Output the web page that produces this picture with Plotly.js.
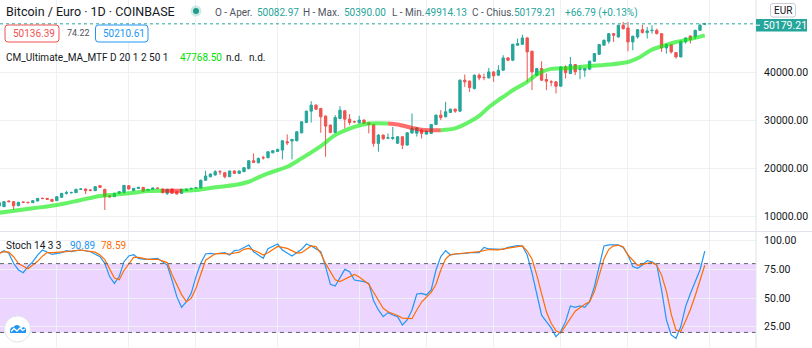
<!DOCTYPE html>
<html><head><meta charset="utf-8">
<script src="https://cdn.plot.ly/plotly-3.0.1.min.js"></script>
<style>html,body{margin:0;padding:0;background:#fff;overflow:hidden}#chart{width:812px;height:348px}</style>
</head><body><div id="chart"></div>
<script>
// ---- data (daily candles, first day 2020-11-04) ----
const firstDay = [2020, 10, 4];
const openP = [12230,12090,13270,13130,12300,13060,12990,12920,13270,13850,13820,13620,13340,14030,14860,15000,15000,15700,15770,15560,15420,16460,15700,14380,14170,14860,15000,16460,15420,15900,16110,15420,15700,15970,15770,14860,15770,15210,14860,15420,15770,15970,15970,17600,18330,18680,19400,19170,18330,19520,19030,19380,20000,21660,21250,22300,22290,23320,23600,23880,25610,25750,25820,27480,29630,31990,33240,32540,30950,29080,27550,30460,32060,30320,29800,29560,30120,29560,29220,25270,27000,26350,26300,25300,26650,24920,27450,27400,28040,27210,27350,29220,31160,30820,31720,32410,31990,38440,38230,36710,39480,39000,38920,40170,39480,40520,43080,42600,45720,45920,47240,44470,39480,40870,38580,38090,38090,37190,41210,39830,41700,40650,40520,40730,42390,43840,45720,46550,48140,47450,49880,49320,46410,47450,48970,48350,48750,48830,48140,45160,45860,44190,43290,46410,47660,47450,48830,50082.97];
const highP = [13000,13200,13400,13200,13100,13150,13100,13400,13900,13950,13900,13700,14250,14950,15400,15200,15800,15900,15850,15700,16400,16600,15800,14500,15000,15300,16600,16600,16000,16200,16200,15800,16050,16050,15850,15800,15850,15300,15800,15850,16000,16150,17700,19580,19000,19700,19720,19300,19600,19650,19600,20300,21750,23190,22300,22700,23600,23900,24150,25900,27140,26200,27800,29850,32100,34070,33400,32700,31100,29200,31160,33030,32200,31370,30000,31020,30300,29700,29300,27200,27100,27350,28700,26800,26800,27600,31510,28700,28200,28000,29300,31300,32200,33930,32500,32500,38600,39620,38400,39620,39830,39830,41000,40300,41560,43640,43290,46000,47100,47930,47400,44600,41000,42390,39830,38440,38200,41300,41560,43290,41800,41560,41000,42500,44100,46000,46900,48250,48250,50000,50570,50570,47700,49050,50010,49530,49880,49180,48250,46060,46000,44300,46650,47350,47750,48950,50220,50390.00];
const lowP = [12100,12000,13000,11400,12200,12900,12850,12850,13200,13650,13500,13100,13300,13950,14600,14800,14950,15600,14720,15300,15350,16000,11400,14000,14100,14800,14900,15700,15350,15850,15200,15350,15650,15800,14900,14520,14800,14650,14800,15350,15700,15900,15900,17500,18200,18600,18700,17990,18250,18950,18900,19300,19900,21200,21100,21900,22200,23200,23500,21940,24920,21940,25700,27350,29500,29630,32200,27480,22490,27400,27400,30300,28380,29080,29500,29400,29300,27350,24570,23530,26000,26170,26000,25200,24090,24800,27300,26700,26300,27100,27200,29100,30120,30700,31600,31650,31800,37050,36010,36500,38440,38440,38800,38090,39300,40400,42400,42400,45600,45800,38090,36360,39300,38300,36360,37190,35670,37050,38790,39700,39480,38650,39130,40600,42300,43700,45720,46060,46410,47300,49000,44470,44680,47100,48200,47100,48140,48000,44330,43980,43980,42950,43200,46060,46060,46960,48700,49914.13];
const closeP = [12920,13130,13130,12300,12990,12990,12920,13340,13820,13780,13620,13200,14170,14860,15000,15050,15700,15770,15420,15500,16250,16110,14170,14100,14860,15210,16530,15770,15900,16110,15280,15700,15970,15900,15000,15700,14860,14720,15700,15770,15900,16040,17600,18470,18890,19380,19350,18330,19520,19030,19520,20210,21660,21320,22150,22250,23530,23740,24020,25820,25400,26100,27690,29770,31990,33240,32400,30810,28870,27550,30670,32200,30320,29630,29770,30120,29420,29220,25270,27000,26250,26450,26500,26650,24920,27480,28400,28500,27350,27840,29220,31160,30680,31860,32410,31990,38440,38090,36910,39480,38920,38990,40170,39340,40520,43080,42600,45920,46060,47240,44330,40170,40870,38440,38230,38050,37190,41210,40000,41700,40170,40730,40870,42390,43980,45860,46760,48140,47800,49880,49180,46410,47590,48970,48350,48700,48830,48140,45160,45860,44330,43290,46550,47240,46900,48830,49880,50179.21];

// CM_Ultimate_MA_MTF (SMA 20): day index / value
const maIdx = [0,7,12,17,21,24,28,31,34,36,38,41,45,49,52,54,56,60,63,67,70,74,77,81,83,86,88,90,92,95,98,100,102,104,105,107,109,110,112,113,115,119,121,127,131,133,136,138,141,144,147];
const maVal = [10830,11750,12430,13470,14300,14600,14990,15350,15420,15420,15410,15550,16120,16590,17280,18200,19030,20400,22150,24700,26990,28720,29430,29430,29220,28500,28100,28030,28030,28390,29760,31000,32800,34300,34960,36350,37500,38100,39600,40160,40800,40990,41200,41700,42240,43000,44800,45500,46400,47000,47768.50];
const maRedFrom = [34, 81];
const maRedTo = [38, 92];

// Stochastic 14 3 3
const kIdx = [0,1,2,3,4,5,6,7,8,9,11,13,14,15,16,17,19,20,21,22,23,24,25,26,27,28,29,30,31,33,34,35,36,37,38,39,40,41,42,43,44,45,47,48,49,50,52,53,54,55,56,58,59,61,63,64,65,67,68,69,70,71,72,73,74,76,77,78,79,80,81,82,83,84,85,86,87,88,89,90,91,92,93,94,95,97,98,100,101,102,104,105,106,108,109,110,111,112,113,114,115,116,117,118,119,120,121,122,123,124,125,126,127,129,130,131,132,133,134,135,136,137,138,139,140,141,142,143,144,145,146,147];
const kVal = [89.0,91.3,89.0,80.3,74.5,72.1,77.4,81.7,87.5,91.9,88.0,89.6,91.3,90.4,91.3,91.9,90.4,88.4,86.1,80.3,68.7,62.8,68.7,81.7,86.7,87.8,84.6,84.0,83.8,84.6,81.7,78.8,65.7,51.2,41.9,46.8,54.1,68.7,80.3,88.4,89.0,88.4,89.6,87.5,91.3,91.9,96.3,90.4,87.5,84.6,93.0,97.1,91.9,86.7,92.5,97.1,95.4,90.4,77.4,61.9,60.5,67.2,75.0,73.0,65.7,64.3,62.8,47.7,39.6,33.8,37.3,35.2,33.8,26.5,30.9,39.6,53.5,54.1,52.7,57.0,74.5,86.1,91.3,87.5,88.4,89.0,89.6,89.6,94.2,92.8,92.5,92.5,94.2,95.7,95.4,87.5,72.0,52.0,35.0,29.5,24.0,16.3,21.0,29.4,43.1,41.9,43.1,41.9,46.8,59.9,78.0,95.4,96.3,96.3,94.2,87.5,77.4,75.9,78.8,82.6,81.7,78.8,57.0,30.9,17.8,14.9,25.1,42.5,54.0,64.0,74.5,90.89];
const dIdx = [0,1,2,3,4,6,7,8,9,10,11,14,17,20,21,22,24,25,26,27,28,29,31,33,35,36,37,38,39,40,41,42,43,45,46,48,50,51,52,54,55,56,58,60,62,63,65,66,67,68,69,70,71,72,74,75,77,78,79,80,81,83,84,86,87,88,90,91,92,93,94,96,98,100,102,104,106,108,109,110,111,112,113,114,115,116,117,118,119,120,122,123,124,125,126,127,128,129,130,131,132,133,135,136,137,138,139,140,141,142,143,144,145,146,147];
const dVal = [89,90.5,90,86,80,75.5,78.8,82,86.5,89.6,89.6,90.4,91.9,90,87.5,83.5,67.5,66,74,80.3,85.5,85.5,83.8,83.8,80.9,70.5,62,53,46.8,49.7,58.5,71,83,88.6,89,88.4,90,92.5,93.3,90,87.5,89.5,95,93.3,89.2,89.6,95.4,94.8,89,80,73,66,64.3,66.5,70.5,68.3,62,55,48,41,38,34.8,32.5,32,39.6,46.5,55,62,74.5,84,88,89,89.6,90.4,92.3,92,93.5,94.8,95.4,91,84,70,53,38,28,21.5,19.5,25.5,31.5,38.5,44.5,46.8,55.6,69,84,92.5,95.5,96,94.8,87.5,83,78.5,80.3,81,78.5,70,56,36,22,21,30,40,52,65,78.59];

const priceTicks = [10000, 20000, 30000, 40000];
const stochTicks = [25, 50, 75, 100];
const stochBand = [20, 80];
const gridDates = ['2020-11-16','2020-12-01','2020-12-15','2021-01-01','2021-01-18','2021-02-01','2021-02-15','2021-03-01','2021-03-15','2021-04-01'];
const lastPrice = 50179.21;

// ---- helpers ----
const W = 756, H = 348;
const DAY = 86400000;
const t0 = Date.UTC(firstDay[0], firstDay[1], firstDay[2]);
function dstr(i){ return new Date(t0 + i*DAY).toISOString().slice(0,19).replace('T',' '); }
const px = x => x / W;
const py = y => 1 - y / H;
const FONT = 'Roboto, "Liberation Sans", sans-serif';

const xs = closeP.map((_, i) => dstr(i));

const traces = [];
traces.push({
  type: 'candlestick', x: xs, open: openP, high: highP, low: lowP, close: closeP,
  xaxis: 'x', yaxis: 'y', hoverinfo: 'skip', whiskerwidth: 0,
  increasing: {line: {color: '#26a69a', width: 1}, fillcolor: '#26a69a'},
  decreasing: {line: {color: '#ef5350', width: 1}, fillcolor: '#ef5350'}
});

// MA split into coloured segments
const bounds = [0];
maRedFrom.forEach((a, j) => { bounds.push(a); bounds.push(maRedTo[j]); });
bounds.push(maIdx[maIdx.length - 1]);
for (let s = 0; s < bounds.length - 1; s++) {
  const a = bounds[s], b = bounds[s + 1];
  const red = s % 2 === 1;
  const sx = [], sy = [];
  maIdx.forEach((d, i) => { if (d >= a && d <= b) { sx.push(dstr(d)); sy.push(maVal[i]); } });
  traces.push({
    type: 'scatter', mode: 'lines', x: sx, y: sy, xaxis: 'x', yaxis: 'y', hoverinfo: 'skip',
    line: {color: red ? 'rgba(255,20,20,0.62)' : 'rgba(10,235,10,0.62)', width: 4, shape: 'spline', smoothing: 0.9}
  });
}

traces.push({type: 'scatter', mode: 'lines', x: kIdx.map(dstr), y: kVal, xaxis: 'x2', yaxis: 'y2',
  hoverinfo: 'skip', line: {color: '#2196f3', width: 1.2}});
traces.push({type: 'scatter', mode: 'lines', x: dIdx.map(dstr), y: dVal, xaxis: 'x2', yaxis: 'y2',
  hoverinfo: 'skip', line: {color: '#ff6d00', width: 1.2}});

const gridC = '#eef0f4';
const axisFont = {family: FONT, size: 10.5, color: '#131722'};
const layout = {
  width: 812, height: 348, margin: {l: 0, r: 56, t: 0, b: 0},
  paper_bgcolor: '#ffffff', plot_bgcolor: 'rgba(0,0,0,0)', showlegend: false,
  xaxis: {type: 'date', range: [dstr(0.167), dstr(157.67)], domain: [0, 1], anchor: 'y',
    tickvals: gridDates, showticklabels: false, ticks: '', showgrid: true, gridcolor: gridC,
    zeroline: false, showline: false, rangeslider: {visible: false}},
  xaxis2: {type: 'date', matches: 'x', domain: [0, 1], anchor: 'y2',
    tickvals: gridDates, showticklabels: false, ticks: '', showgrid: true, gridcolor: gridC,
    zeroline: false, showline: false},
  yaxis: {domain: [1 - 231 / H, 1], range: [7021, 55146], side: 'right', anchor: 'x',
    tickvals: priceTicks, ticktext: priceTicks.map(v => v.toFixed(2)), tickfont: axisFont,
    ticks: 'outside', ticklen: 5, tickcolor: 'rgba(0,0,0,0)', showgrid: true, gridcolor: gridC,
    zeroline: false, showline: false},
  yaxis2: {domain: [0, 1 - 232 / H], range: [6.42, 107.59], side: 'right', anchor: 'x2',
    tickvals: stochTicks, ticktext: stochTicks.map(v => v.toFixed(2)), tickfont: axisFont,
    ticks: 'outside', ticklen: 5, tickcolor: 'rgba(0,0,0,0)', showgrid: true, gridcolor: gridC,
    zeroline: false, showline: false},
  shapes: [], annotations: []
};

const S = layout.shapes, A = layout.annotations;
// stoch band & levels
S.push({type: 'rect', xref: 'paper', x0: 0, x1: 1, yref: 'y2', y0: stochBand[0], y1: stochBand[1],
  fillcolor: 'rgba(155,39,255,0.19)', line: {width: 0}, layer: 'below'});
stochBand.forEach(v => S.push({type: 'line', xref: 'paper', x0: 0, x1: 1, yref: 'y2', y0: v, y1: v,
  line: {color: '#5d606b', width: 1, dash: '4px,4px'}}));
// panel separator & price scale border
S.push({type: 'line', xref: 'paper', yref: 'paper', x0: 0, x1: 812 / W, y0: py(231.5), y1: py(231.5),
  line: {color: '#e0e3eb', width: 1}});
S.push({type: 'line', xref: 'paper', yref: 'paper', x0: px(756), x1: px(756), y0: 0, y1: 1,
  line: {color: '#e0e3eb', width: 1}});
// last price line
S.push({type: 'line', xref: 'paper', x0: 0, x1: 1, yref: 'y', y0: lastPrice, y1: lastPrice,
  line: {color: '#26a69a', width: 1, dash: 'dot'}});
// last price label
S.push({type: 'rect', xref: 'paper', yref: 'paper', x0: px(756), x1: px(807), y0: py(31.5), y1: py(19),
  fillcolor: '#26a69a', line: {width: 0}});
S.push({type: 'line', xref: 'paper', yref: 'paper', x0: px(756), x1: px(760), y0: py(25.2), y1: py(25.2),
  line: {color: '#ffffff', width: 1}});
A.push({xref: 'paper', yref: 'paper', x: px(762.5), y: py(25.5), xanchor: 'left', yanchor: 'middle',
  showarrow: false, text: lastPrice.toFixed(2), font: {family: FONT, size: 10.5, color: '#ffffff'}, borderpad: 0});
// EUR box
function rrect(x0, y0, x1, y1, r, stroke, fill) {
  const p = (x, y) => `${px(x)},${py(y)}`;
  const path = `M ${p(x0 + r, y0)} L ${p(x1 - r, y0)} Q ${p(x1, y0)} ${p(x1, y0 + r)} L ${p(x1, y1 - r)} Q ${p(x1, y1)} ${p(x1 - r, y1)} L ${p(x0 + r, y1)} Q ${p(x0, y1)} ${p(x0, y1 - r)} L ${p(x0, y0 + r)} Q ${p(x0, y0)} ${p(x0 + r, y0)} Z`;
  S.push({type: 'path', xref: 'paper', yref: 'paper', path, fillcolor: fill || 'rgba(0,0,0,0)', line: {color: stroke, width: 1}});
}
rrect(770.5, 3.5, 795.5, 17, 2.5, '#c9ccd6', '#ffffff');
A.push({xref: 'paper', yref: 'paper', x: px(783), y: py(10.5), xanchor: 'center', yanchor: 'middle',
  showarrow: false, text: 'EUR', font: {family: FONT, size: 10, color: '#131722'}, borderpad: 0});

function txt(x, y, text, color, size) {
  A.push({xref: 'paper', yref: 'paper', x: px(x), y: py(y), xanchor: 'left', yanchor: 'middle',
    showarrow: false, text, font: {family: FONT, size: size || 10, color}, borderpad: 0});
}
// header
txt(5, 12, 'Bitcoin / Euro · 1D · COINBASE', '#131722', 12.5);
S.push({type: 'circle', xref: 'paper', yref: 'paper', x0: px(190.5), x1: px(201.5), y0: py(16.5), y1: py(5.5),
  fillcolor: 'rgba(38,166,154,0.22)', line: {width: 0}});
S.push({type: 'circle', xref: 'paper', yref: 'paper', x0: px(193), x1: px(199), y0: py(14), y1: py(8),
  fillcolor: '#1e9e8a', line: {width: 0}});
const gray = '#50535e', teal = '#26a69a';
txt(214, 12.5, 'O - Aper.', gray); txt(256, 12.5, '50082.97', teal);
txt(302, 12.5, 'H - Max.', gray); txt(343, 12.5, '50390.00', teal);
txt(391, 12.5, 'L - Min.', gray); txt(424, 12.5, '49914.13', teal);
txt(471, 12.5, 'C - Chius.', gray); txt(513, 12.5, '50179.21', teal);
txt(564, 12.5, '+66.79 (+0.13%)', teal);
// row 2
rrect(5, 25, 59, 42, 3, '#ef5350', '#ffffff');
txt(11.5, 33.8, '50136.39', '#ef5350', 10);
txt(66, 33.5, '74.22', '#50535e', 9);
rrect(95.5, 25, 148, 42, 3, '#2196f3', '#ffffff');
txt(101.5, 33.8, '50210.61', '#2196f3', 10);
// row 3
txt(5, 57.5, 'CM_Ultimate_MA_MTF D 20 1 2 50 1', '#131722', 10);
txt(179, 57.5, '47768.50', '#00e000', 10);
txt(225, 57.5, 'n.d.', '#131722', 10);
txt(248, 57.5, 'n.d.', '#131722', 10);
// stoch legend
txt(5, 245.5, 'Stoch 14 3 3', '#131722', 10);
txt(69, 245.5, '90.89', '#2196f3', 10);
txt(99.5, 245.5, '78.59', '#ff6d00', 10);
// logo
S.push({type: 'circle', xref: 'paper', yref: 'paper', x0: px(4.5), x1: px(30.5), y0: py(342), y1: py(316),
  fillcolor: '#ffffff', line: {color: '#e3e5ea', width: 1}});
(function () {
  const p = (x, y) => `${px(x)},${py(y)}`;
  const path = `M ${p(10, 333)} L ${p(10, 331)} Q ${p(10, 327)} ${p(13.5, 327)} Q ${p(16, 323.5)} ${p(19.5, 326)} L ${p(21.5, 329)} L ${p(23, 327)} Q ${p(26.5, 327.5)} ${p(26, 331)} L ${p(26, 333)} Z`;
  S.push({type: 'path', xref: 'paper', yref: 'paper', path, fillcolor: '#2196f3', line: {width: 0}});
  const zig = `M ${p(11, 331.5)} L ${p(14, 328.5)} L ${p(17, 331)} L ${p(20, 328)} L ${p(22.5, 330.5)} L ${p(25, 329)}`;
  S.push({type: 'path', xref: 'paper', yref: 'paper', path: zig, line: {color: '#ffffff', width: 1.3}});
})();

Plotly.newPlot('chart', traces, layout, {staticPlot: true, displayModeBar: false});
</script></body></html>
